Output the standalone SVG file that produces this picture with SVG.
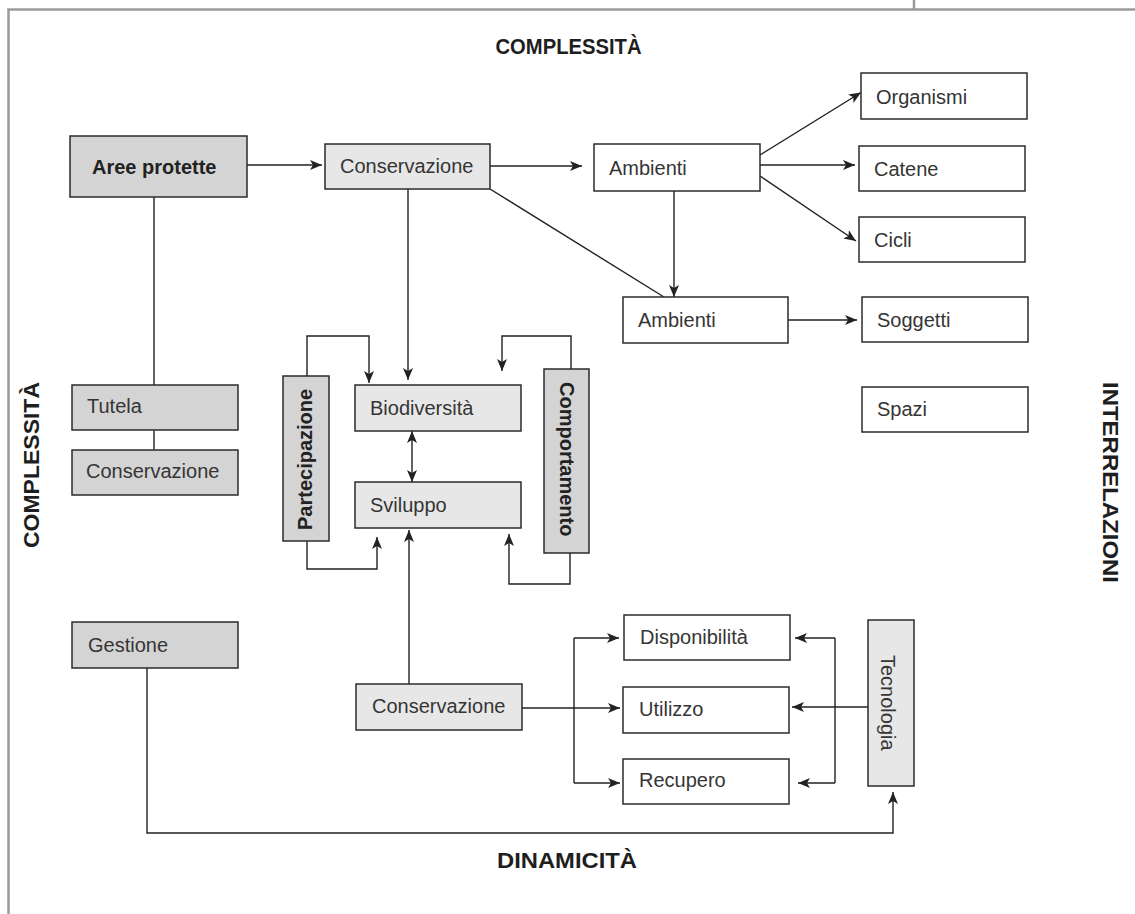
<svg xmlns="http://www.w3.org/2000/svg" width="1135" height="914" viewBox="0 0 1135 914">
  <style>
    .box { stroke: #2b2b2b; stroke-width: 1.5; }
    .dark { fill: #d4d4d4; }
    .light { fill: #e7e7e7; }
    .white { fill: #ffffff; }
    .lbl { font-family: "Liberation Sans", Arial, sans-serif; font-size: 20px; fill: #353535; }
    .bold { font-weight: bold; fill: #222222; }
    .axis { font-family: "Liberation Sans", Arial, sans-serif; font-size: 22px; font-weight: bold; fill: #1e1e1e; }
    .wire { fill: none; stroke: #222222; stroke-width: 1.4; }
    .arr { marker-end: url(#head); }
    .frame { fill: none; stroke: #9a9a9a; stroke-width: 2.5; }
  </style>
  <defs>
    <marker id="head" viewBox="0 0 12 10" refX="12" refY="5" markerWidth="12" markerHeight="10" markerUnits="userSpaceOnUse" orient="auto-start-reverse">
      <path d="M0,0 L12,5 L0,10 L3,5 Z" fill="#222222"/>
    </marker>
  </defs>

  <rect width="1135" height="914" fill="#ffffff"/>

  <!-- page frame -->
  <g id="frame">
    <path class="frame" d="M8.5,914 V9.5 H1135"/>
    <path class="frame" d="M914,0 V9.5"/>
  </g>

  <!-- axis labels -->
  <g id="axes">
    <text class="axis" x="568.5" y="54" text-anchor="middle" font-size="21" textLength="146" lengthAdjust="spacingAndGlyphs">COMPLESSITÀ</text>
    <text class="axis" transform="translate(39,548) rotate(-90)" textLength="166" lengthAdjust="spacingAndGlyphs">COMPLESSITÀ</text>
    <text class="axis" transform="translate(1103,382) rotate(90)" textLength="201" lengthAdjust="spacingAndGlyphs">INTERRELAZIONI</text>
    <text class="axis" x="567" y="868" text-anchor="middle" textLength="140" lengthAdjust="spacingAndGlyphs">DINAMICITÀ</text>
  </g>

  <!-- connectors -->
  <g id="connectors">
    <path class="wire arr" d="M247,165 H322"/>
    <path class="wire arr" d="M490,166 H582"/>
    <path class="wire arr" d="M760,155 L861,92.5"/>
    <path class="wire arr" d="M760,165 H855"/>
    <path class="wire arr" d="M760,176 L856,241"/>
    <path class="wire arr" d="M674,191 V297"/>
    <path class="wire" d="M490,189 L664,297"/>
    <path class="wire arr" d="M788,320 H857"/>
    <path class="wire arr" d="M408,189 V380"/>
    <path class="wire arr" d="M412,431 V482" marker-start="url(#head)"/>
    <path class="wire arr" d="M307,376 V336 H369 V383"/>
    <path class="wire arr" d="M307,541 V569 H377 V537"/>
    <path class="wire arr" d="M571,369 V336 H502 V371"/>
    <path class="wire arr" d="M570,553 V584 H509 V534"/>
    <path class="wire arr" d="M409,684 V530"/>
    <path class="wire" d="M154,197 V385"/>
    <path class="wire" d="M154,430 V450"/>
    <path class="wire arr" d="M147,668 V833 H893 V792"/>
    <path class="wire arr" d="M522,708 H620"/>
    <path class="wire" d="M574,638 V783"/>
    <path class="wire arr" d="M574,638 H619"/>
    <path class="wire arr" d="M574,783 H620"/>
    <path class="wire" d="M835,638 V783"/>
    <path class="wire arr" d="M835,638 H795"/>
    <path class="wire arr" d="M835,783 H798"/>
    <path class="wire arr" d="M868,707 H792"/>
  </g>

  <!-- nodes -->
  <g id="aree-protette">
    <rect class="box dark" x="70" y="136" width="177" height="61"/>
    <text class="lbl bold" x="92" y="174">Aree protette</text>
  </g>
  <g id="conservazione-top">
    <rect class="box light" x="325" y="144" width="165" height="45"/>
    <text class="lbl" x="340" y="173">Conservazione</text>
  </g>
  <g id="ambienti-1">
    <rect class="box white" x="594" y="144" width="166" height="47"/>
    <text class="lbl" x="609" y="175">Ambienti</text>
  </g>
  <g id="organismi">
    <rect class="box white" x="861" y="73" width="166" height="46"/>
    <text class="lbl" x="876" y="104">Organismi</text>
  </g>
  <g id="catene">
    <rect class="box white" x="859" y="146" width="166" height="45"/>
    <text class="lbl" x="874" y="176">Catene</text>
  </g>
  <g id="cicli">
    <rect class="box white" x="859" y="217" width="166" height="45"/>
    <text class="lbl" x="874" y="247">Cicli</text>
  </g>
  <g id="ambienti-2">
    <rect class="box white" x="623" y="297" width="165" height="46"/>
    <text class="lbl" x="638" y="327">Ambienti</text>
  </g>
  <g id="soggetti">
    <rect class="box white" x="862" y="297" width="166" height="45"/>
    <text class="lbl" x="877" y="327">Soggetti</text>
  </g>
  <g id="spazi">
    <rect class="box white" x="862" y="387" width="166" height="45"/>
    <text class="lbl" x="877" y="416">Spazi</text>
  </g>
  <g id="tutela">
    <rect class="box dark" x="72" y="385" width="166" height="45"/>
    <text class="lbl" x="87" y="413">Tutela</text>
  </g>
  <g id="conservazione-left">
    <rect class="box dark" x="72" y="450" width="166" height="45"/>
    <text class="lbl" x="86" y="478">Conservazione</text>
  </g>
  <g id="partecipazione">
    <rect class="box dark" x="283" y="376" width="46" height="165"/>
    <text class="lbl bold" transform="translate(312,530) rotate(-90)">Partecipazione</text>
  </g>
  <g id="biodiversita">
    <rect class="box light" x="355" y="385" width="166" height="46"/>
    <text class="lbl" x="370" y="415">Biodiversità</text>
  </g>
  <g id="sviluppo">
    <rect class="box light" x="355" y="482" width="166" height="46"/>
    <text class="lbl" x="370" y="512">Sviluppo</text>
  </g>
  <g id="comportamento">
    <rect class="box dark" x="544" y="369" width="45" height="184"/>
    <text class="lbl bold" transform="translate(560,382) rotate(90)">Comportamento</text>
  </g>
  <g id="gestione">
    <rect class="box dark" x="72" y="622" width="166" height="46"/>
    <text class="lbl" x="88" y="652">Gestione</text>
  </g>
  <g id="conservazione-bottom">
    <rect class="box light" x="356" y="684" width="166" height="46"/>
    <text class="lbl" x="372" y="713">Conservazione</text>
  </g>
  <g id="disponibilita">
    <rect class="box white" x="624" y="615" width="166" height="45"/>
    <text class="lbl" x="640" y="644">Disponibilità</text>
  </g>
  <g id="utilizzo">
    <rect class="box white" x="623" y="687" width="166" height="46"/>
    <text class="lbl" x="639" y="716">Utilizzo</text>
  </g>
  <g id="recupero">
    <rect class="box white" x="623" y="759" width="166" height="45"/>
    <text class="lbl" x="639" y="787">Recupero</text>
  </g>
  <g id="tecnologia">
    <rect class="box light" x="868" y="620" width="46" height="166"/>
    <text class="lbl" transform="translate(881,655) rotate(90)">Tecnologia</text>
  </g>
</svg>
